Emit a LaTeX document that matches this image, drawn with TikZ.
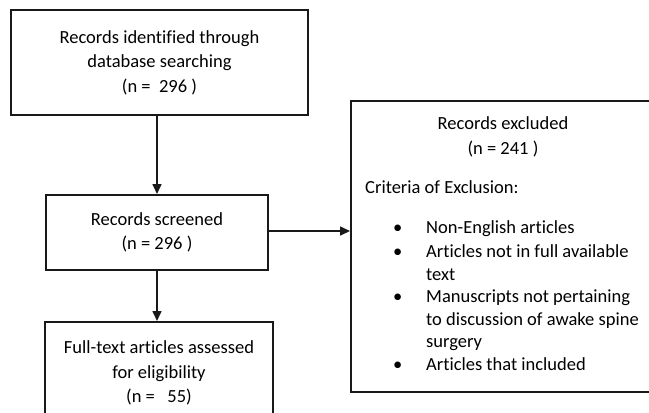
\documentclass[tikz,border=0pt]{standalone}
\usepackage{fontspec}
\setmainfont{Carlito}[Ligatures=CommonOff]
\usepackage{array}
\usetikzlibrary{arrows.meta,positioning}
\newcommand{\FlowFont}{\fontsize{18.5}{24.5}\selectfont}
\newcommand{\ListFont}{\fontsize{18.5}{22.5}\selectfont}

\begin{document}
\begin{tikzpicture}[x=1pt,y=-1pt,
    flowbox/.style={draw=black!90, line width=2pt, align=center, font=\FlowFont, inner sep=0pt},
    flowlink/.style={draw=black!90, line width=1.6pt, -{Triangle[length=10pt,width=9pt]}}]
    \useasboundingbox (0,0) rectangle (649,413);
    \clip (0,0) rectangle (649,413);
    % left column
    \node[flowbox, minimum width=297pt, minimum height=105pt] (ident) at (159.5,62.5)
        {Records identified through\\database searching\\(n =\ \ 296 )};
    \node[flowbox, minimum width=222pt, minimum height=75pt, below=78pt of ident, xshift=-2.5pt] (screen)
        {Records screened\\(n = 296 )};
    \node[flowbox, minimum width=228pt, minimum height=102pt, below=50pt of screen, xshift=2pt] (full)
        {Full-text articles assessed\\for eligibility\\(n =\ \ \ 55)};
    % excluded box
    \node[flowbox, minimum width=304pt, minimum height=291pt] (excl) at (503,246.5) {};
    \node[font=\FlowFont, align=center, inner sep=0pt, anchor=base] (exclhead) at (503,154)
        {Records excluded\\(n = 241 )};
    \node[font=\FlowFont, inner sep=0pt, anchor=base west] (crit) at (365,193) {Criteria of Exclusion:};
    \node[font=\ListFont, inner sep=0pt, anchor=north west] (crititems) at (393,217.25) {%
        \begin{tabular}{@{}p{33pt}@{}>{\raggedright\arraybackslash}p{225pt}@{}}
        \textbullet & Non-English articles\\[2pt]
        \textbullet & Articles not in full available\newline text\\[2pt]
        \textbullet & Manuscripts not pertaining\newline to discussion of awake spine\newline surgery\\[2pt]
        \textbullet & Articles that included
        \end{tabular}};
    % connectors
    \draw[flowlink] (ident.south -| screen.north) -- (screen.north);
    \draw[flowlink] (screen.south) -- (screen.south |- full.north);
    \draw[flowlink] ([yshift=1.5pt]screen.east) -- ([yshift=1.5pt]screen.east -| excl.west);
\end{tikzpicture}
\end{document}
